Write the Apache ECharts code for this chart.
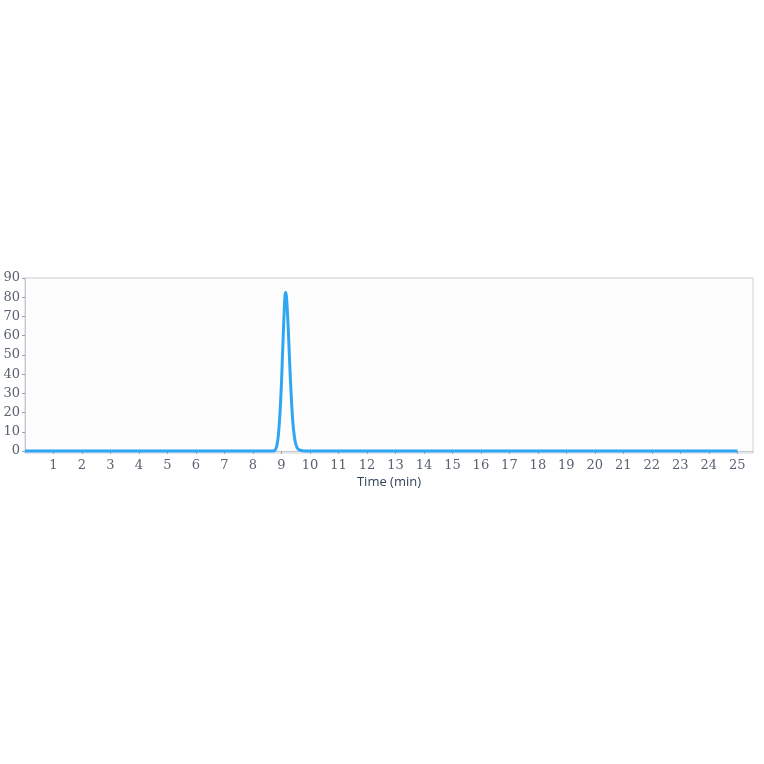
<!DOCTYPE html>
<html>
<head>
<meta charset="utf-8">
<script src="https://cdn.jsdelivr.net/npm/echarts@6/dist/echarts.min.js"></script>
<style>html,body{margin:0;padding:0;background:#fff}#c{width:764px;height:764px}</style>
</head>
<body>
<div id="c"></div>
<script>
var times = [0, 8.70, 8.75, 8.80, 8.85, 8.90, 8.95, 9.00, 9.05, 9.10, 9.14, 9.17, 9.20, 9.25, 9.30, 9.35, 9.40, 9.45, 9.50, 9.55, 9.60, 9.70, 9.80, 10.0, 25];
var signal = [0, 0, 0.2, 1.0, 3.5, 9.5, 20, 35, 55, 74, 82.5, 81, 75, 60, 42, 27, 15, 8, 3.8, 1.8, 0.8, 0.3, 0.1, 0, 0];
var xTicks = [1,2,3,4,5,6,7,8,9,10,11,12,13,14,15,16,17,18,19,20,21,22,23,24,25];
var yTicks = [0,10,20,30,40,50,60,70,80,90];
var xTitle = 'Time (min)';

var chart = echarts.init(document.getElementById('c'));
var pts = times.map(function(t,i){return [t, signal[i]];});
chart.setOption({
  animation: false,
  backgroundColor: '#ffffff',
  grid: {left: 25, right: 11, top: 278, bottom: 311, show: true, borderColor: '#d0d0d8', borderWidth: 1, backgroundColor: '#fdfdfd'},
  xAxis: {
    type: 'value', min: 0, max: 25.55,
    name: xTitle, nameLocation: 'middle', nameGap: 23,
    nameTextStyle: {fontFamily: 'Open Sans', fontSize: 13, color: '#34445a'},
    axisLine: {lineStyle: {color: '#c8c8d0'}},
    axisTick: {show: true, customValues: xTicks, length: 3, lineStyle: {color: '#9aa0aa'}},
    axisLabel: {customValues: xTicks, fontFamily: 'DejaVu Serif', fontSize: 13, color: '#5a6272', margin: 6},
    splitLine: {show: false}
  },
  yAxis: {
    type: 'value', min: -1, max: 90,
    axisLine: {show: true, lineStyle: {color: '#c8c8d0'}},
    axisTick: {show: true, customValues: yTicks, length: 3, lineStyle: {color: '#9aa0aa'}},
    axisLabel: {customValues: yTicks, fontFamily: 'DejaVu Serif', fontSize: 13, color: '#5a6272', margin: 5},
    splitLine: {show: false}
  },
  series: [{
    type: 'line', data: pts, showSymbol: false, smooth: 0.3,
    lineStyle: {color: '#2fa6f2', width: 3}
  }]
});
</script>
</body>
</html>
